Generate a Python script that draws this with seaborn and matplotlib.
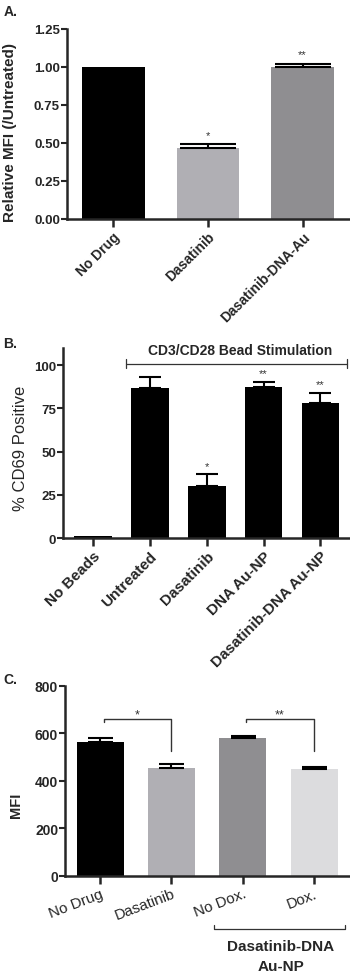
import numpy as np
import matplotlib
matplotlib.use("Agg")
import matplotlib.pyplot as plt
import seaborn as sns

# Panel A data
a_labels = ["No Drug", "Dasatinib", "Dasatinib-DNA-Au"]
a_values = [1.0, 0.47, 1.0]
a_errors = [0.0, 0.02, 0.02]
a_stars = ["", "*", "**"]
a_colors = ["#000000", "#b0afb4", "#8f8e91"]

# Panel B data
b_labels = ["No Beads", "Untreated", "Dasatinib", "DNA Au-NP", "Dasatinib-DNA Au-NP"]
b_values = [1.0, 87.0, 30.0, 87.5, 78.0]
b_errors = [0.0, 6.0, 7.0, 3.0, 6.0]
b_stars = ["", "", "*", "**", "**"]

# Panel C data
c_labels = ["No Drug", "Dasatinib", "No Dox.", "Dox."]
c_values = [562, 455, 581, 452]
c_errors = [18, 16, 8, 7]
c_colors = ["#000000", "#b0afb4", "#8f8e91", "#dcdcde"]

sns.set_style("ticks")
plt.rcParams["font.family"] = ["Liberation Sans", "DejaVu Sans"]
plt.rcParams["font.weight"] = "bold"
plt.rcParams["axes.labelweight"] = "bold"

fig = plt.figure(figsize=(3.5, 9.79), dpi=100)
LINE = "#333333"


def style_axes(ax, ylim, yticks, fmt, fs):
    ax.set_ylim(*ylim)
    ax.set_yticks(yticks)
    ax.set_yticklabels([fmt.format(t) for t in yticks], fontsize=fs, fontweight="bold")
    sns.despine(ax=ax)
    ax.spines["left"].set_linewidth(1.8)
    ax.spines["bottom"].set_linewidth(1.8)
    ax.tick_params(axis="y", length=4, width=1.5, pad=1)
    ax.tick_params(axis="x", length=5.5, width=1.8, pad=2)
    ax.set_xlabel("")


def draw_bars(ax, labels, values, errors, colors, capsize):
    sns.barplot(x=labels, y=values, hue=labels, palette=colors, legend=False,
                errorbar=None, width=0.66, saturation=1, ax=ax, linewidth=0)
    # only upper error bars, and none where the error is zero
    idx = np.array([i for i, e in enumerate(errors) if e > 0])
    ax.errorbar(idx, np.array(values)[idx],
                yerr=[np.zeros(len(idx)), np.array(errors)[idx]], fmt="none",
                ecolor="black", elinewidth=1.5, capsize=capsize, capthick=1.5)


# ---------------- Panel A
axA = fig.add_axes([0.191, 0.7753, 0.809, 0.1941])
draw_bars(axA, a_labels, a_values, a_errors, a_colors, 20)
axA.set_xlim(-0.49, 2.5)
style_axes(axA, (0, 1.25), [0, 0.25, 0.5, 0.75, 1.0, 1.25], "{:.2f}", 9.5)
axA.set_ylabel("Relative MFI (/Untreated)", fontsize=11)
axA.yaxis.set_label_coords(-0.177, 0.458)
axA.set_xticks(range(len(a_labels)))
axA.set_xticklabels(a_labels, rotation=45, ha="right", rotation_mode="anchor",
                    fontsize=10, fontweight="bold")
for i, s in enumerate(a_stars):
    if s:
        axA.text(i, a_values[i] + a_errors[i] + 0.03, s, ha="center", va="bottom",
                 fontsize=8, fontweight="normal", color=LINE)

# ---------------- Panel B
axB = fig.add_axes([0.18, 0.4494, 0.82, 0.1941])
draw_bars(axB, b_labels, b_values, b_errors, ["#000000"] * len(b_labels), 8)
axB.set_xlim(-0.53, 4.52)
style_axes(axB, (0, 110), [0, 25, 50, 75, 100], "{:d}", 9.5)
axB.set_ylabel("% CD69 Positive", fontsize=12, fontweight="normal")
axB.yaxis.set_label_coords(-0.122, 0.479)
axB.set_xticks(range(len(b_labels)))
axB.set_xticklabels(b_labels, rotation=45, ha="right", rotation_mode="anchor",
                    fontsize=11, fontweight="bold")
for i, s in enumerate(b_stars):
    if s:
        axB.text(i, b_values[i] + b_errors[i] + 2, s, ha="center", va="bottom",
                 fontsize=8, fontweight="normal", color=LINE)
# stimulation bracket
axB.plot([0.58, 4.46], [101, 101], color=LINE, lw=0.9, clip_on=False)
for xx in [0.58, 4.46]:
    axB.plot([xx, xx], [98.5, 103.5], color=LINE, lw=0.9, clip_on=False)
fig.text(240 / 350, 1 - 351 / 979, "CD3/CD28 Bead Stimulation", ha="center",
         va="center", fontsize=10, fontweight="bold")

# ---------------- Panel C
axC = fig.add_axes([0.186, 0.1042, 0.814, 0.1941])
draw_bars(axC, c_labels, c_values, c_errors, c_colors, 9)
axC.set_xlim(-0.49, 3.5)
style_axes(axC, (0, 800), [0, 200, 400, 600, 800], "{:d}", 10)
axC.set_ylabel("MFI", fontsize=10.5)
axC.yaxis.set_label_coords(-0.147, 0.379)
axC.set_xticks(range(len(c_labels)))
axC.set_xticklabels(c_labels, rotation=21, ha="right", rotation_mode="anchor",
                    fontsize=11, fontweight="normal")
# significance brackets
for (i0, i1, s) in [(0, 1, "*"), (2, 3, "**")]:
    axC.plot([i0 + 0.05, i0 + 0.05, i1, i1], [648, 661, 661, 526], color=LINE, lw=1)
    axC.text((i0 + i1) / 2 + 0.02, 680, s, ha="center", va="center", fontsize=9,
             fontweight="normal", color=LINE)
# group bracket under No Dox./Dox.
fig.add_artist(plt.Line2D([214 / 350, 214 / 350, 345 / 350, 345 / 350],
                          [1 - 926 / 979, 1 - 930 / 979, 1 - 930 / 979, 1 - 926 / 979],
                          color=LINE, lw=0.9))
fig.text(281 / 350, 1 - 947 / 979, "Dasatinib-DNA", ha="center", va="center",
         fontsize=11, fontweight="bold")
fig.text(281 / 350, 1 - 967 / 979, "Au-NP", ha="center", va="center",
         fontsize=11, fontweight="bold")

# panel letters
fig.text(0.01, 1 - 12 / 979, "A.", fontsize=10, fontweight="bold", va="center")
fig.text(0.01, 1 - 344 / 979, "B.", fontsize=10, fontweight="bold", va="center")
fig.text(0.01, 1 - 680 / 979, "C.", fontsize=10, fontweight="bold", va="center")

fig.savefig("out.png", dpi=100)
